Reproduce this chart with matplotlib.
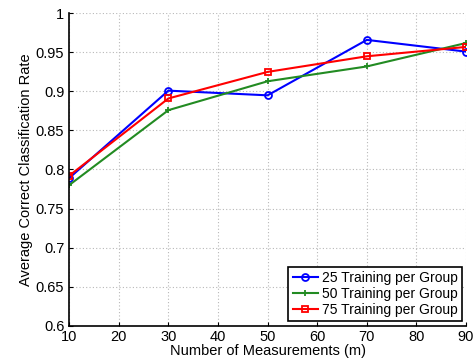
import matplotlib
matplotlib.use("Agg")
import matplotlib.pyplot as plt

plt.rcParams['font.family'] = ['Liberation Sans', 'DejaVu Sans']

m = [10, 30, 50, 70, 90]
acc_25 = [0.789, 0.901, 0.895, 0.966, 0.951]
acc_50 = [0.780, 0.876, 0.913, 0.932, 0.962]
acc_75 = [0.792, 0.891, 0.925, 0.945, 0.957]

xticks = [10, 20, 30, 40, 50, 60, 70, 80, 90]
yticks = [0.6, 0.65, 0.7, 0.75, 0.8, 0.85, 0.9, 0.95, 1]
ytick_labels = ["0.6", "0.65", "0.7", "0.75", "0.8", "0.85", "0.9", "0.95", "1"]


def main():
    fig = plt.figure(figsize=(4.77, 3.61), dpi=100)
    ax = fig.add_axes([0.145, 0.098, 0.832, 0.865])

    ax.plot(m, acc_25, color="blue", marker="o", markersize=5, mfc="none",
            mew=1.3, lw=1.5, label="25 Training per Group")
    ax.plot(m, acc_50, color="#228B22", marker="+", markersize=5,
            mew=1.3, lw=1.5, label="50 Training per Group")
    ax.plot(m, acc_75, color="red", marker="s", markersize=5, mfc="none",
            mew=1.3, lw=1.5, label="75 Training per Group")

    ax.set_xlim(10, 90)
    ax.set_ylim(0.6, 1)
    ax.set_xticks(xticks)
    ax.set_yticks(yticks)
    ax.set_yticklabels(ytick_labels)
    ax.tick_params(direction="in", labelsize=10.5, length=3, width=0.8)
    ax.grid(True, linestyle=(0, (1, 2)), color="#b8b8b8", linewidth=0.8)
    ax.spines["top"].set_visible(False)
    ax.spines["right"].set_visible(False)
    ax.spines["left"].set_linewidth(1.2)
    ax.spines["bottom"].set_linewidth(1.2)

    ax.set_xlabel("Number of Measurements (m)", fontsize=10.5, labelpad=0)
    ax.set_ylabel("Average Correct Classification Rate", fontsize=10.5, labelpad=2)

    leg = ax.legend(loc="lower right", fontsize=10, fancybox=False,
                    framealpha=1, edgecolor="black", borderpad=0.3,
                    labelspacing=0.15, handlelength=1.8, handletextpad=0.3,
                    borderaxespad=0.3)
    leg.get_frame().set_linewidth(1.2)

    fig.savefig("out.png", dpi=100)
    plt.close("all")


if __name__ == "__main__":
    main()
